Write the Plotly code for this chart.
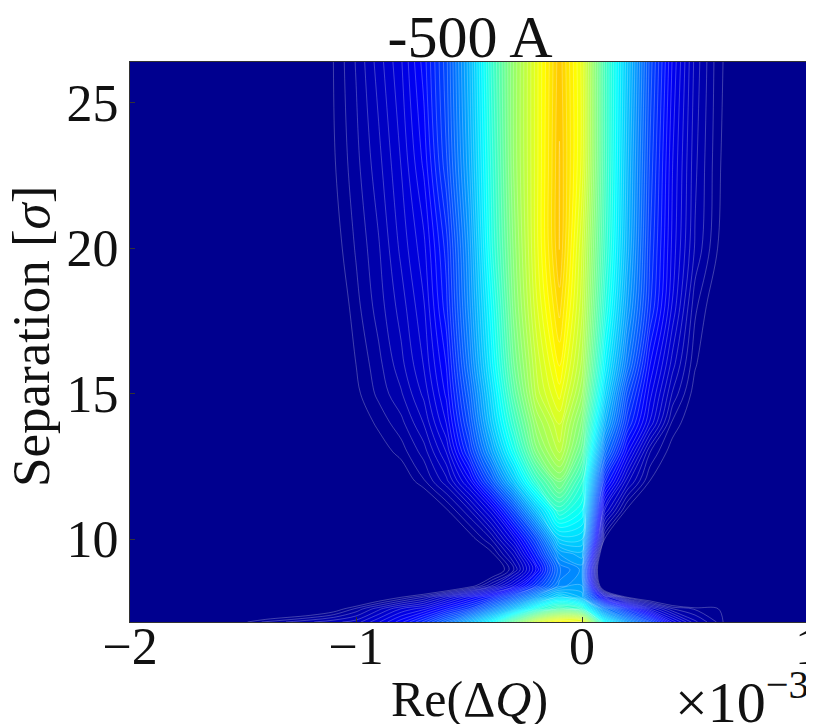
import plotly.graph_objects as go

# Re(dQ) columns, units of 1e-3
x_vals = [-2, -1.6, -1.4, -1.2, -1.1, -1.0, -.9, -.8, -.7, -.6, -.5, -.4, -.3, -.2, -.1, 0, .1, .2, .3, .4, .5, .6, .7, .8, 1.0]
# Separation rows, sigma
y_vals = [7.15, 7.6, 8.0, 8.4, 8.95, 9.5, 10, 11, 12, 13, 14, 15, 16, 18, 20, 23, 26.4]

r_07 = [-.1, -.02, .02, .04, .05, .06, .09, .125, .17, .23, .30, .375, .48, .58, .63, .62, .38, .28, .20, .10, .045, .015, -.03, -.06, -.1]
r_08 = [-.1, -.1, -.06, -.03, -.01, .02, .05, .08, .10, .14, .18, .25, .32, .40, .45, .42, .25, .16, .08, .03, .015, .005, -.01, -.06, -.1]
r_09 = [-.1, -.1, -.1, -.1, -.08, -.05, -.02, .004, .03, .07, .11, .15, .21, .28, .34, .30, .10, .004, -.03, -.06, -.1, -.1, -.1, -.1, -.1]
r_10 = [-.1, -.1, -.1, -.1, -.1, -.1, -.1, -.08, -.07, -.05, -.012, .04, .10, .18, .26, .28, -.07, -.1, -.1, -.1, -.1, -.1, -.1, -.1, -.1]
r_11 = [-.1, -.1, -.1, -.1, -.1, -.1, -.1, -.1, -.1, -.1, -.08, -.03, .03, .12, .24, .27, -.12, -.15, -.15, -.15, -.1, -.1, -.1, -.1, -.1]
r_12 = [-.1, -.1, -.1, -.1, -.1, -.1, -.1, -.1, -.1, -.1, -.05, 0, .06, .16, .28, .30, -.07, -.1, -.1, -.1, -.1, -.1, -.1, -.1, -.1]
r_13 = [-.1, -.1, -.1, -.1, -.1, -.1, -.1, -.1, -.08, -.04, -.007, .03, .10, .20, .33, .33, .004, -.05, -.1, -.1, -.1, -.1, -.1, -.1, -.1]
r_14 = [-.1, -.1, -.1, -.1, -.1, -.1, -.1, -.06, -.03, .002, .04, .10, .20, .32, .42, .38, .08, 0, -.03, -.06, -.1, -.1, -.1, -.1, -.1]
r_15 = [-.1, -.1, -.1, -.1, -.08, -.05, -.03, -.012, .015, .05, .11, .21, .32, .43, .50, .42, .16, .06, .004, -.03, -.06, -.1, -.1, -.1, -.1]
r_16 = [-.1, -.1, -.1, -.06, -.04, -.02, -.006, .01, .035, .08, .17, .28, .39, .50, .56, .47, .24, .12, .03, -.005, -.03, -.06, -.1, -.1, -.1]
r_17 = [-.1, -.1, -.08, -.05, -.03, -.01, .008, .025, .055, .105, .20, .32, .43, .53, .58, .50, .30, .17, .09, .014, -.012, -.04, -.08, -.1, -.1]
r_18 = [-.1, -.1, -.08, -.04, -.02, 0, .02, .04, .07, .12, .22, .34, .46, .56, .61, .53, .34, .20, .11, .04, -.004, -.02, -.05, -.1, -.1]
r_19 = [-.1, -.1, -.07, -.04, -.017, .004, .025, .05, .08, .13, .24, .36, .48, .57, .63, .55, .37, .24, .13, .06, .006, -.02, -.05, -.1, -.1]
r_20 = [-.1, -.1, -.07, -.04, -.015, .012, .035, .06, .09, .15, .26, .38, .50, .59, .66, .57, .41, .28, .17, .09, .02, -.012, -.03, -.08, -.1]
r_21 = [-.1, -.1, -.06, -.03, -.005, .018, .04, .07, .10, .16, .27, .40, .51, .60, .68, .58, .43, .30, .18, .10, .04, .004, -.02, -.06, -.1]
r_22 = [-.1, -.1, -.06, -.025, .002, .025, .05, .08, .12, .19, .29, .41, .52, .60, .68, .60, .44, .31, .19, .105, .045, .008, -.02, -.05, -.1]
r_23 = [-.1, -.1, -.06, -.026, .004, .03, .06, .09, .135, .20, .30, .42, .52, .60, .675, .60, .44, .32, .20, .115, .05, .01, -.015, -.04, -.1]

z_rows = [r_07, r_08, r_09, r_10, r_11, r_12, r_13, r_14, r_15, r_16, r_17, r_18, r_19, r_20, r_21, r_22, r_23]

x_ticks = [-2, -1, 0, 1]
x_labels = ["−2", "−1", "0", "1"]
y_ticks = [10, 15, 20, 25]

jet = [[0, "rgb(0,0,143)"], [.125, "rgb(0,0,255)"], [.375, "rgb(0,255,255)"],
       [.625, "rgb(255,255,0)"], [.875, "rgb(255,0,0)"], [1, "rgb(128,0,0)"]]

FONT = "Liberation Serif"
INK = "#111"
fig = go.Figure(go.Contour(
    x=x_vals, y=y_vals, z=z_rows, zmin=0, zmax=1, colorscale=jet, showscale=False,
    contours=dict(coloring="fill", start=.004, end=1.004, size=.0125),
    line=dict(color="rgba(255,255,255,.25)", width=1, smoothing=1),
    hoverinfo="skip"))

axis = dict(showgrid=False, zeroline=False, showline=True, linecolor="#333", linewidth=1,
            mirror=True, ticks="inside", ticklen=5, tickcolor="#333", automargin=False,
            tickfont=dict(family=FONT, size=52, color=INK))
fig.update_layout(
    width=806, height=716, autosize=False, paper_bgcolor="white", plot_bgcolor="rgb(0,0,143)",
    margin=dict(l=122, r=6, t=54, b=102),
    font=dict(family=FONT, color=INK),
    title=dict(text="-500 A", x=(470 - 8) / 806, xanchor="center", y=1 - 28 / 716, yanchor="middle",
               font=dict(family=FONT, size=60, color=INK)),
    xaxis=dict(axis, range=[-2, 1], tickvals=x_ticks, ticktext=x_labels, ticklabelstandoff=-21,
               ticklabeloverflow="allow"),
    yaxis=dict(axis, range=[7.15, 26.4], tickvals=y_ticks),
    annotations=[
        dict(text="Re(Δ<i>Q</i>)", x=.5, y=-.137, xref="paper", yref="paper", showarrow=False,
             xanchor="center", yanchor="middle", font=dict(family=FONT, size=50, color=INK)),
        dict(text="Separation [<i>σ</i>]", x=-.146, y=.509, xref="paper", yref="paper", showarrow=False,
             xanchor="center", yanchor="middle", textangle=-90, font=dict(family=FONT, size=53, color=INK)),
        dict(text="×10<sup>−3</sup>", x=1.005, y=-.137, xref="paper", yref="paper", showarrow=False,
             xanchor="right", yanchor="middle", font=dict(family=FONT, size=58, color=INK)),
    ],
)
fig.write_html("out.html")
